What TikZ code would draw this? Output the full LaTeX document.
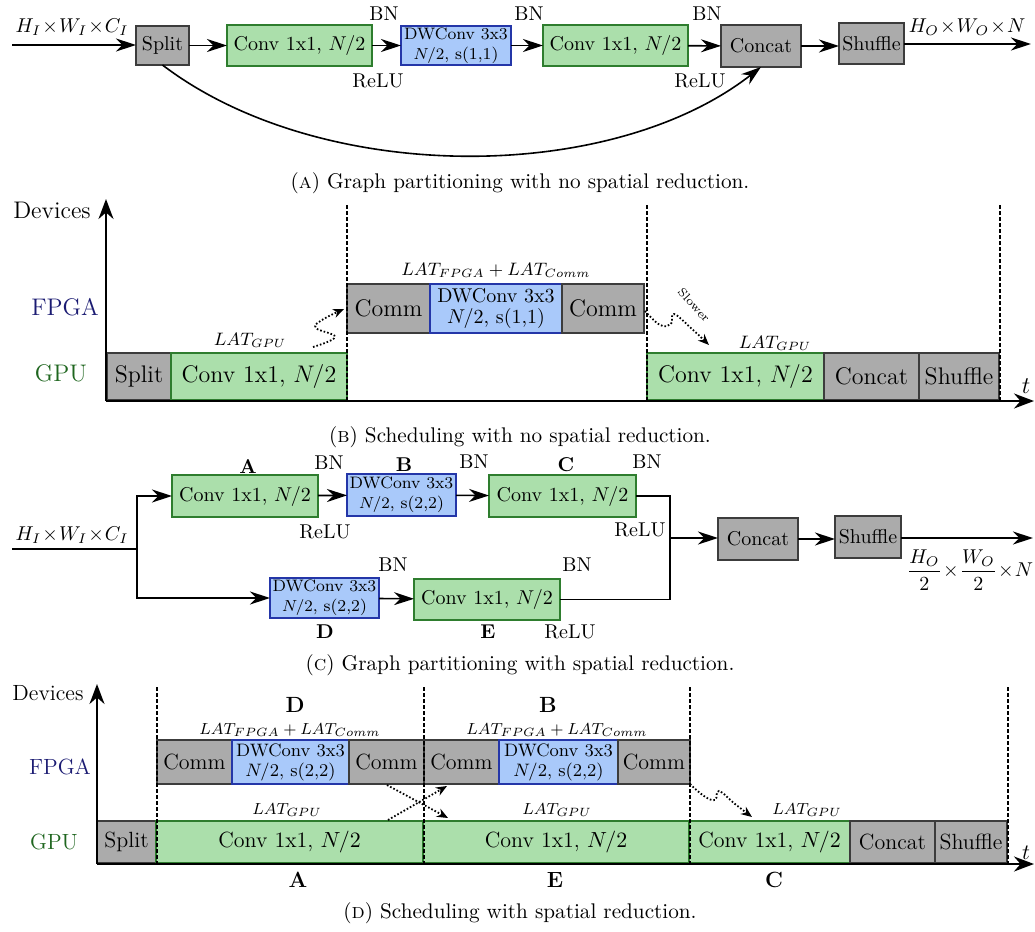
\documentclass[tikz,border=0pt]{standalone}
\usetikzlibrary{arrows.meta}
\definecolor{opfill}{HTML}{ABABAB}
\definecolor{opedge}{HTML}{3C3C3C}
\definecolor{convfill}{HTML}{ABDFAB}
\definecolor{convedge}{HTML}{2E7D2E}
\definecolor{dwfill}{HTML}{A9C9FA}
\definecolor{dwedge}{HTML}{2436A8}
\definecolor{fpgacol}{HTML}{1B1B72}
\definecolor{gpucol}{HTML}{1F661F}
\newcommand\fsz[2]{\fontsize{#1}{#2}\selectfont}
\newcommand\tx{\!\times\!}
% \boxat{style}{name}{x1}{y1}{x2}{y2}{text}: a block given by its corners
\newcommand\boxat[7]{\node[#1, minimum width={(#5-#3)*0.5pt}, minimum height={(#6-#4)*0.5pt}] (#2) at ({(#3+#5)/2},{(#4+#6)/2}) {#7};}
\tikzset{
  blk/.style={draw, line width=0.6pt, inner sep=0pt, outer sep=0pt, align=center},
  opbox/.style={blk, fill=opfill, draw=opedge},
  convbox/.style={blk, fill=convfill, draw=convedge},
  dwbox/.style={blk, fill=dwfill, draw=dwedge},
  flow/.style={line width=0.8pt, -{Stealth[length=10pt, width=6.5pt]}},
  wire/.style={line width=0.8pt},
  axis/.style={line width=1pt, -{Stealth[length=10pt, width=7.5pt]}},
  sync/.style={line width=0.6pt, dash pattern=on 2pt off 1pt},
  hop/.style={line width=0.9pt, dash pattern=on 0.8pt off 1pt, -{Stealth[length=5.5pt, width=4.5pt]}},
  captext/.style={font=\fsz{10.6}{12}},
}
\begin{document}
\begin{tikzpicture}[x=0.5pt, y=-0.5pt]
\useasboundingbox (0,0) rectangle (1035,932);

% ---------------- (a) graph, no spatial reduction ----------------
\begin{scope}[font=\fsz{10}{12}]
\boxat{opbox}{splitA}{136}{26}{189}{65}{Split}
\boxat{convbox}{convA1}{227}{25}{372}{66}{Conv 1x1, $N/2$}
\boxat{dwbox,font=\fsz{8.3}{10}}{dwA}{401}{26}{511}{65}{DWConv 3x3\\$N/2$, s(1,1)}
\boxat{convbox}{convA2}{543}{25}{688}{66}{Conv 1x1, $N/2$}
\boxat{opbox}{concatA}{721}{25}{801}{67}{Concat}
\boxat{opbox}{shuffleA}{839}{23}{904}{64}{Shuffle}
\coordinate (inA) at (12,45);
\coordinate (outA) at (1031,44);
\draw[flow] (inA) -- (splitA.west |- inA);
\draw[flow] (splitA) -- (convA1);
\draw[flow] (convA1) -- (dwA);
\draw[flow] (dwA) -- (convA2);
\draw[flow] (convA2) -- (concatA);
\draw[flow] (concatA.east) -- (concatA.east -| shuffleA.west);
\draw[flow] (shuffleA.east |- outA) -- (outA);
\draw[flow] (splitA.south) .. controls (320,185) and (610,185) .. (concatA.south);
\node (dimInA) at (72,27) {$H_I\tx W_I\tx C_I$};
\node (dimOutA) at (967,27) {$H_O\tx W_O\tx N$};
\node (bnA1) at (384,14) {BN};
\node (bnA2) at (529,14) {BN};
\node (bnA3) at (707,14) {BN};
\node (reluA1) at (378,81) {ReLU};
\node (reluA2) at (700,81) {ReLU};
\end{scope}
\node[captext] (capA) at (520,183) {(\textsc{a}) Graph partitioning with no spatial reduction.};

% ---------------- (b) schedule, no spatial reduction ----------------
\begin{scope}[font=\fsz{12}{14}]
\coordinate (oB) at (106,401);
\coordinate (yB) at (106,199);
\coordinate (xB) at (1034,401);
\boxat{opbox}{splitB}{107}{353}{171}{400}{Split}
\boxat{convbox}{convB1}{171}{353}{347}{400}{Conv 1x1, $N/2$}
\boxat{opbox}{commB1}{347}{284}{430}{333}{Comm}
\boxat{dwbox,font=\fsz{10}{10.5}}{dwB}{430}{284}{562}{333}{DWConv 3x3\\$N/2$, s(1,1)}
\boxat{opbox}{commB2}{562}{284}{644}{333}{Comm}
\boxat{convbox}{convB2}{647}{353}{824}{400}{Conv 1x1, $N/2$}
\boxat{opbox}{concatB}{824}{353}{919}{400}{Concat}
\boxat{opbox}{shuffleB}{919}{353}{999}{400}{Shuffle}
\draw[axis] (oB) -- (yB);
\draw[axis] (oB) -- (xB);
\draw[sync] (347,205) -- (347,400);
\draw[sync] (647,205) -- (647,400);
\draw[sync] (1000,205) -- (1000,400);
\node (devB) at (52,210) {Devices};
\node[text=fpgacol] (fpgaB) at (65,307) {FPGA};
\node[text=gpucol] (gpuB) at (61,373) {GPU};
\node (tB) at (1026,386) {$t$};
\node[font=\fsz{9.2}{11}] (latB1) at (250,340) {$LAT_{GPU}$};
\node[font=\fsz{9.2}{11}] (latB2) at (496,270) {$LAT_{FPGA}+LAT_{Comm}$};
\node[font=\fsz{9.2}{11}] (latB3) at (775,343) {$LAT_{GPU}$};
\draw[hop] plot[smooth, tension=0.7] coordinates {(313,347) (335,337) (316,328) (322,320) (344,309)};
\draw[hop] plot[smooth, tension=0.7] coordinates {(645,311) (660,325) (671,324) (674,314) (692,329) (709,345)};
\node[font=\fsz{6}{7}, rotate=-48, inner sep=0pt] (slowB) at (694,305) {Slower};
\end{scope}
\node[captext] (capB) at (520,437) {(\textsc{b}) Scheduling with no spatial reduction.};

% ---------------- (c) graph, spatial reduction ----------------
\begin{scope}[font=\fsz{10}{12}]
\coordinate (inC) at (12,549);
\coordinate (jC) at (137,549);
\boxat{convbox}{convCA}{172}{475}{318}{517}{Conv 1x1, $N/2$}
\boxat{dwbox,font=\fsz{8.3}{10}}{dwCB}{347}{474}{456}{516}{DWConv 3x3\\$N/2$, s(2,2)}
\boxat{convbox}{convCC}{489}{475}{636}{517}{Conv 1x1, $N/2$}
\boxat{dwbox,font=\fsz{8.3}{10}}{dwCD}{270}{578}{379}{618}{DWConv 3x3\\$N/2$, s(2,2)}
\boxat{convbox}{convCE}{414}{579}{560}{620}{Conv 1x1, $N/2$}
\boxat{opbox}{concatC}{718}{518}{798}{560}{Concat}
\boxat{opbox}{shuffleC}{835}{516}{901}{558}{Shuffle}
\coordinate (mC) at (670,538);
\coordinate (outC) at (1033,538);
\draw[wire] (inC) -- (jC);
\draw[flow] (jC) |- (convCA.west);
\draw[flow] (jC) |- (dwCD.west);
\draw[flow] (convCA) -- (dwCB);
\draw[flow] (dwCB) -- (convCC);
\draw[flow] (dwCD) -- (convCE);
\draw[wire] (convCC.east) -| (mC);
\draw[wire] (convCE.east) -| (mC);
\draw[flow] (mC) -- (concatC.west |- mC);
\draw[flow] (concatC.east) -- (concatC.east -| shuffleC.west);
\draw[flow] (shuffleC.east |- outC) -- (outC);
\node (dimInC) at (72,535) {$H_I\tx W_I\tx C_I$};
\node (dimOutC) at (970,570) {$\displaystyle\frac{H_O}{2}\tx\frac{W_O}{2}\tx N$};
\node[font=\fsz{10}{12}\bfseries] (tagA) at (248,467) {A};
\node[font=\fsz{10}{12}\bfseries] (tagB) at (404,465) {B};
\node[font=\fsz{10}{12}\bfseries] (tagC) at (566,465) {C};
\node[font=\fsz{10}{12}\bfseries] (tagD) at (325,632) {D};
\node[font=\fsz{10}{12}\bfseries] (tagE) at (488,632) {E};
\node (bnC1) at (329,463) {BN};
\node (bnC2) at (474,462) {BN};
\node (bnC3) at (647,462) {BN};
\node (bnC4) at (393,565) {BN};
\node (bnC5) at (577,565) {BN};
\node (reluC1) at (325,532) {ReLU};
\node (reluC2) at (640,530) {ReLU};
\node (reluC3) at (570,632) {ReLU};
\end{scope}
\node[captext] (capC) at (520,665) {(\textsc{c}) Graph partitioning with spatial reduction.};

% ---------------- (d) schedule, spatial reduction ----------------
\begin{scope}[font=\fsz{11}{13}]
\coordinate (oD) at (97,864);
\coordinate (yD) at (97,684);
\coordinate (xD) at (1034,864);
\boxat{opbox}{splitD}{97}{821}{156}{863}{Split}
\boxat{convbox}{convDA}{156}{821}{423}{863}{Conv 1x1, $N/2$}
\boxat{convbox}{convDE}{423}{821}{689}{863}{Conv 1x1, $N/2$}
\boxat{convbox}{convDC}{689}{821}{850}{863}{Conv 1x1, $N/2$}
\boxat{opbox}{concatD}{850}{821}{935}{863}{Concat}
\boxat{opbox}{shuffleD}{935}{821}{1007}{863}{Shuffle}
\boxat{opbox}{commD1}{157}{740}{232}{784}{Comm}
\boxat{dwbox,font=\fsz{9}{10}}{dwDD}{232}{740}{349}{784}{DWConv 3x3\\$N/2$, s(2,2)}
\boxat{opbox}{commD2}{349}{740}{424}{784}{Comm}
\boxat{opbox}{commD3}{424}{740}{499}{784}{Comm}
\boxat{dwbox,font=\fsz{9}{10}}{dwDB}{499}{740}{618}{784}{DWConv 3x3\\$N/2$, s(2,2)}
\boxat{opbox}{commD4}{618}{740}{690}{784}{Comm}
\draw[axis] (oD) -- (yD);
\draw[axis] (oD) -- (xD);
\draw[sync] (157,687) -- (157,864);
\draw[sync] (424,687) -- (424,864);
\draw[sync] (690,687) -- (690,864);
\draw[sync] (1008,687) -- (1008,864);
\node (devD) at (48,693) {Devices};
\node[text=fpgacol] (fpgaD) at (60,767) {FPGA};
\node[text=gpucol] (gpuD) at (54,842) {GPU};
\node (tD) at (1026,853) {$t$};
\node[font=\fsz{11}{13}\bfseries] (tagDD) at (295,705) {D};
\node[font=\fsz{11}{13}\bfseries] (tagDB) at (548,705) {B};
\node[font=\fsz{11}{13}\bfseries] (tagDA) at (298,880) {A};
\node[font=\fsz{11}{13}\bfseries] (tagDE) at (555,880) {E};
\node[font=\fsz{11}{13}\bfseries] (tagDC) at (774,880) {C};
\node[font=\fsz{8.2}{10}] (latD1) at (290,730) {$LAT_{FPGA}+LAT_{Comm}$};
\node[font=\fsz{8.2}{10}] (latD2) at (557,730) {$LAT_{FPGA}+LAT_{Comm}$};
\node[font=\fsz{8.2}{10}] (latD3) at (287,810) {$LAT_{GPU}$};
\node[font=\fsz{8.2}{10}] (latD4) at (557,810) {$LAT_{GPU}$};
\node[font=\fsz{8.2}{10}] (latD5) at (807,810) {$LAT_{GPU}$};
\coordinate (hopA1) at (388,820);
\coordinate (hopA2) at (447,786);
\coordinate (hopB1) at (387,785);
\coordinate (hopB2) at (448,818);
\draw[hop] (hopA1) -- (hopA2);
\draw[hop] (hopB1) -- (hopB2);
\draw[hop] plot[smooth, tension=0.7] coordinates {(690,784) (704,796) (715,800) (719,791) (735,804) (752,817)};
\end{scope}
\node[captext] (capD) at (520,913) {(\textsc{d}) Scheduling with spatial reduction.};
\end{tikzpicture}
\end{document}
